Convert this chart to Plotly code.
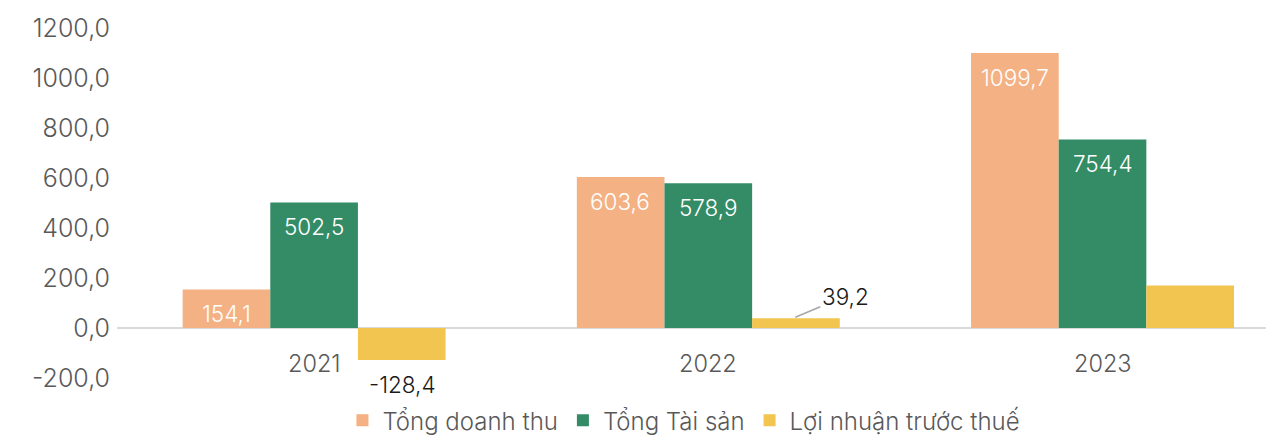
import plotly.graph_objects as go

categories = ["2021", "2022", "2023"]
doanh_thu = [154.1, 603.6, 1099.7]
tai_san = [502.5, 578.9, 754.4]
loi_nhuan = [-128.4, 39.2, 170.4]
series_names = ["Tổng doanh thu", "Tổng Tài sản", "Lợi nhuận trước thuế"]
y_ticks = [-200, 0, 200, 400, 600, 800, 1000, 1200]

colors = ["#F4B183", "#338C66", "#F1C54F"]
FONT = "Inter"
GREY = "#595959"
BAR_PX = 88  # approximate pixel width of one bar (for label offsets)


def fmt(v):
    return f"{v:.1f}".replace(".", ",")


fig = go.Figure()
for name, vals, col in zip(series_names, [doanh_thu, tai_san, loi_nhuan], colors):
    fig.add_trace(go.Bar(x=categories, y=vals, name=name, marker_color=col,
                         marker_line_width=0))

annotations = []
# category labels just below the zero line
for i, c in enumerate(categories):
    annotations.append(dict(x=i, y=0, xref="x", yref="y", text=c, showarrow=False,
                            yshift=-35, yanchor="middle",
                            font=dict(size=23.5, color=GREY, family=FONT, weight=300)))
# inside labels (white) for first two series
for k, vals in enumerate([doanh_thu, tai_san]):
    for i, v in enumerate(vals):
        annotations.append(dict(x=i, y=v, xref="x", yref="y", text=fmt(v),
                                showarrow=False, xshift=(k - 1) * BAR_PX, yshift=-24,
                                yanchor="middle",
                                font=dict(size=22.5, color="white", family=FONT, weight=300)))
# labels for the third series
annotations.append(dict(x=0, y=loi_nhuan[0], xref="x", yref="y",
                        text=fmt(loi_nhuan[0]), showarrow=False, xshift=BAR_PX, yshift=-24,
                        yanchor="middle",
                        font=dict(size=22.5, color="#1a1a1a", family=FONT, weight=300)))
annotations.append(dict(x=1, y=loi_nhuan[1], xref="x", yref="y",
                        text=fmt(loi_nhuan[1]), showarrow=True, arrowhead=0,
                        arrowwidth=1.5, arrowcolor="#A6A6A6", xshift=BAR_PX - 1, yshift=1,
                        ax=50, ay=-21, standoff=0,
                        font=dict(size=22.5, color="#1a1a1a", family=FONT, weight=300)))

fig.update_layout(
    width=1266, height=433,
    margin=dict(l=109, r=0, t=20, b=63, autoexpand=False),
    paper_bgcolor="white", plot_bgcolor="white",
    barmode="group", bargap=0.333, bargroupgap=0,
    font=dict(family=FONT, size=22, color=GREY, weight=300),
    showlegend=True,
    legend=dict(orientation="h", x=0.49, xanchor="center", y=-0.122, yanchor="middle",
                font=dict(size=24, color=GREY, family=FONT, weight=300),
                traceorder="normal", bgcolor="rgba(0,0,0,0)"),
    annotations=annotations,
    xaxis=dict(type="category", range=[-0.5, 2.435], showticklabels=False,
               showgrid=False, showline=False, zeroline=False, fixedrange=True,
               automargin=False),
    yaxis=dict(range=[-200, 1200], tickvals=y_ticks, ticktext=[fmt(t) for t in y_ticks],
               showgrid=False, showline=False, zeroline=True,
               zerolinecolor="#D9D9D9", zerolinewidth=1.5, automargin=False,
               ticklabelstandoff=6,
               tickfont=dict(size=25, color=GREY, family=FONT, weight=300)),
)

fig.write_html("out.html")
